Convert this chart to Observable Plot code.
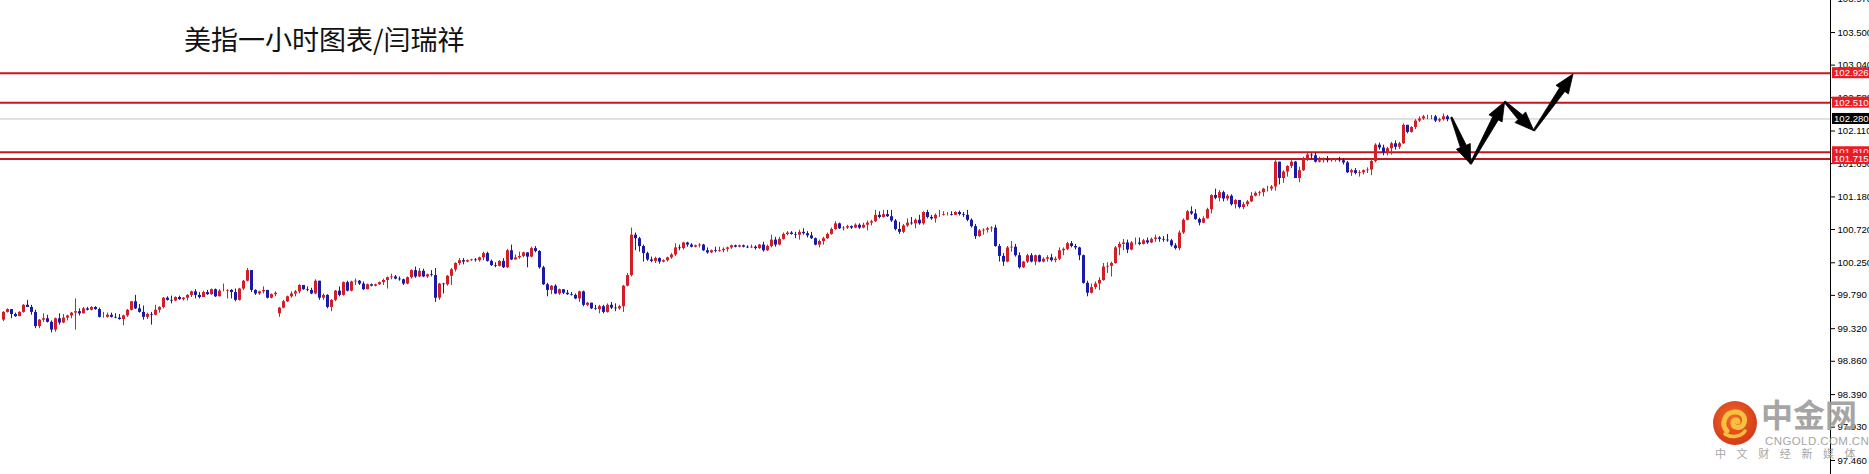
<!DOCTYPE html>
<html><head><meta charset="utf-8">
<script src="https://cdn.jsdelivr.net/npm/d3@7"></script>
<script src="https://cdn.jsdelivr.net/npm/@observablehq/plot@0.6"></script>
<style>
html,body{margin:0;padding:0;background:#fff;}
#wrap{position:relative;width:1869px;height:474px;overflow:hidden;background:#fff;}
#title{position:absolute;left:184px;top:25px;font-family:"Noto Sans CJK SC","Noto Sans",sans-serif;font-size:27px;line-height:1;color:#111;white-space:nowrap;}
.wm{position:absolute;white-space:nowrap;color:#9e9e9e;opacity:0.92;}
#wm1{left:1761px;top:397px;font-family:"Noto Sans CJK SC";font-weight:bold;font-size:32px;line-height:1;}
#wm2{left:1765px;top:436px;font-family:"Liberation Sans",sans-serif;font-size:11.5px;line-height:1;letter-spacing:0.4px;}
#wm3{left:1715px;top:448px;font-family:"Noto Sans CJK SC";font-size:11px;line-height:1;letter-spacing:10.6px;}
#wmlogo{position:absolute;left:1713px;top:401px;}
</style></head>
<body>
<div id="wrap">
  <div id="chart"></div>
  <div id="title">美指一小时图表/闫瑞祥</div>
  <svg id="wmlogo" width="44" height="44" viewBox="0 0 44 44">
    <defs><radialGradient id="lg" cx="45%" cy="40%" r="60%"><stop offset="0%" stop-color="#f06a2a"/><stop offset="100%" stop-color="#d43a18"/></radialGradient></defs>
    <circle cx="22" cy="22" r="22" fill="url(#lg)"/>
    <path d="M14 30 C 8 24, 11 12, 21 11 C 30 10, 34 18, 30 24 C 27 28, 20 27, 20 22 C 20 18, 25 18, 25 21" fill="none" stroke="#f8c03c" stroke-width="5" stroke-linecap="round"/>
    <path d="M12 33 C 18 37, 28 36, 32 30" fill="none" stroke="#f8c03c" stroke-width="3.5" stroke-linecap="round"/>
  </svg>
  <div class="wm" id="wm1">中金网</div>
  <div class="wm" id="wm2">CNGOLD.COM.CN</div>
  <div class="wm" id="wm3">中文财经新媒体</div>
</div>
<script>
// ---- data (US Dollar Index, 1-hour candles) ----
const firstOpen = 99.44;
const gapIndex = [69];
const gapOpen = [99.53];

const close = [
99.55,99.59,99.52,99.49,99.55,99.65,99.62,99.55,99.35,99.44,
99.46,99.41,99.30,99.46,99.40,99.47,99.50,99.54,99.56,99.53,
99.60,99.58,99.62,99.59,99.48,99.48,99.51,99.48,99.47,99.45,
99.50,99.58,99.70,99.60,99.55,99.48,99.52,99.51,99.58,99.62,
99.75,99.72,99.71,99.76,99.73,99.75,99.79,99.84,99.79,99.76,
99.83,99.80,99.87,99.77,99.85,99.85,99.86,99.83,99.72,99.88,
99.99,
100.14,99.86,99.81,99.84,99.86,99.75,99.80,99.82,99.61,99.70,
99.77,99.81,99.84,99.93,99.87,99.86,99.81,99.99,99.75,99.79,
99.62,99.72,99.85,99.79,99.97,99.85,99.98,99.99,99.95,99.87,
99.94,99.92,99.94,99.97,100.00,100.04,100.05,100.02,100.01,99.95,
100.04,100.14,100.05,100.13,100.05,100.08,100.07,99.75,99.95,99.94,
100.06,100.15,100.24,100.28,100.26,100.28,100.29,100.28,100.32,100.38,
100.27,100.21,100.20,100.27,100.18,100.42,100.29,100.32,100.34,100.39,
100.33,100.45,100.41,100.18,99.94,99.86,99.92,99.81,99.87,99.82,
99.80,99.79,99.74,99.84,99.65,99.68,99.60,99.59,99.63,99.55,
99.65,99.61,99.60,99.63,99.92,100.07,100.64,100.59,100.48,100.38,
100.29,100.27,100.31,100.26,100.28,100.32,100.36,100.46,100.45,100.53,
100.50,100.47,100.49,100.50,100.42,100.39,100.42,100.41,100.42,100.44,
100.46,100.49,100.47,100.49,100.47,100.46,100.47,100.45,100.50,100.42,
100.48,100.57,100.50,100.58,100.65,100.67,100.65,100.64,100.68,100.66,
100.63,100.59,100.50,100.55,100.59,100.65,100.72,100.80,100.73,100.74,
100.76,100.74,100.78,100.74,100.78,100.81,100.83,100.92,100.89,100.93,
100.90,100.84,100.72,100.68,100.77,100.81,100.80,100.85,100.80,100.96,
100.89,100.87,100.92,100.92,100.93,100.93,100.92,100.96,100.93,100.92,
100.85,100.76,100.62,100.70,100.71,100.73,100.74,100.48,100.34,100.26,
100.46,100.47,100.35,100.18,100.26,100.35,100.26,100.35,100.26,100.30,
100.32,100.28,100.30,100.42,100.44,100.52,100.48,100.46,100.35,99.96,
99.82,99.90,99.95,100.00,100.19,100.20,100.24,100.46,100.51,100.53,
100.43,100.53,100.53,100.51,100.56,100.53,100.58,100.60,100.58,100.57,
100.56,100.49,100.45,100.67,100.85,100.97,100.94,100.86,100.81,100.87,
101.00,101.20,101.16,101.24,101.15,101.19,101.07,101.13,101.03,101.07,
101.11,101.19,101.23,101.24,101.29,101.29,101.32,101.67,101.44,101.53,
101.61,101.67,101.44,101.55,101.71,101.77,101.76,101.67,101.69,101.71,
101.69,101.70,101.70,101.69,101.66,101.52,101.55,101.51,101.52,101.55,
101.56,101.68,101.91,101.87,101.80,101.86,101.93,101.88,101.93,102.19,
102.09,102.16,102.25,102.28,102.31,102.31,102.31,102.25,102.27,102.31,
102.27];

const high = [
99.56,99.60,99.59,99.54,99.56,99.66,99.72,99.65,99.58,99.45,
99.53,99.51,99.43,99.47,99.53,99.52,99.51,99.55,99.74,99.60,
99.62,99.62,99.63,99.63,99.61,99.55,99.54,99.54,99.53,99.52,
99.51,99.59,99.70,99.79,99.66,99.64,99.54,99.55,99.65,99.63,
99.76,99.77,99.78,99.77,99.78,99.76,99.80,99.85,99.87,99.83,
99.85,99.86,99.88,99.88,99.87,99.95,99.87,99.87,99.88,99.89,
100.00,
100.17,100.13,99.87,99.85,99.91,99.86,99.81,99.84,99.62,99.72,
99.78,99.84,99.86,99.94,99.93,99.91,99.89,100.01,99.99,99.81,
99.80,99.73,99.86,99.91,99.98,99.99,99.99,100.02,100.00,99.98,
99.95,99.95,99.95,99.98,100.02,100.05,100.09,100.07,100.05,100.02,
100.05,100.15,100.19,100.17,100.16,100.09,100.14,100.17,99.96,99.96,
100.07,100.17,100.25,100.31,100.31,100.29,100.30,100.31,100.33,100.40,
100.40,100.29,100.25,100.28,100.31,100.44,100.50,100.36,100.40,100.40,
100.39,100.47,100.48,100.42,100.20,99.96,99.93,99.94,99.88,99.87,
99.86,99.83,99.81,99.85,99.85,99.69,99.68,99.65,99.65,99.65,
99.67,99.69,99.67,99.65,99.93,100.10,100.74,100.67,100.61,100.50,
100.40,100.33,100.33,100.32,100.29,100.33,100.38,100.52,100.50,100.54,
100.54,100.52,100.50,100.52,100.51,100.46,100.43,100.47,100.47,100.46,
100.47,100.50,100.50,100.50,100.50,100.49,100.50,100.49,100.51,100.54,
100.50,100.64,100.61,100.61,100.67,100.69,100.69,100.68,100.71,100.73,
100.69,100.68,100.60,100.57,100.61,100.67,100.74,100.83,100.81,100.76,
100.78,100.77,100.80,100.80,100.81,100.84,100.85,100.99,100.97,100.99,
100.99,100.99,100.86,100.82,100.79,100.87,100.89,100.87,100.92,100.97,
100.99,100.92,100.94,100.99,100.97,100.96,100.97,100.97,100.98,100.96,
100.99,100.87,100.79,100.72,100.73,100.75,100.76,100.78,100.51,100.38,
100.48,100.55,100.51,100.39,100.27,100.37,100.38,100.36,100.36,100.32,
100.35,100.37,100.33,100.46,100.46,100.54,100.55,100.51,100.47,100.36,
99.99,99.95,99.98,100.04,100.24,100.25,100.26,100.48,100.54,100.58,
100.57,100.55,100.60,100.60,100.58,100.60,100.60,100.64,100.62,100.62,
100.65,100.58,100.52,100.70,100.87,100.99,101.04,101.00,100.88,100.90,
101.02,101.21,101.29,101.27,101.26,101.21,101.21,101.14,101.11,101.10,
101.13,101.24,101.25,101.26,101.30,101.33,101.34,101.69,101.67,101.55,
101.62,101.69,101.68,101.60,101.74,101.81,101.79,101.80,101.74,101.73,
101.75,101.72,101.72,101.74,101.72,101.68,101.57,101.58,101.55,101.56,
101.59,101.72,101.93,101.94,101.91,101.88,101.95,101.97,101.95,102.21,
102.19,102.17,102.27,102.31,102.33,102.33,102.33,102.33,102.29,102.35,
102.33];

const low = [
99.42,99.54,99.46,99.48,99.49,99.54,99.62,99.51,99.32,99.32,
99.41,99.40,99.26,99.27,99.37,99.39,99.43,99.46,99.30,99.50,
99.53,99.57,99.57,99.58,99.47,99.47,99.47,99.47,99.46,99.44,
99.36,99.48,99.57,99.59,99.54,99.44,99.45,99.37,99.50,99.54,
99.60,99.71,99.67,99.70,99.72,99.71,99.71,99.76,99.74,99.74,
99.76,99.79,99.79,99.76,99.77,99.84,99.74,99.74,99.70,99.71,
99.86,
99.98,99.83,99.79,99.79,99.81,99.74,99.74,99.77,99.48,99.60,
99.69,99.75,99.77,99.81,99.86,99.84,99.80,99.80,99.72,99.72,
99.60,99.56,99.70,99.77,99.78,99.84,99.84,99.93,99.93,99.86,
99.87,99.91,99.91,99.93,99.93,99.88,100.01,100.01,99.99,99.93,
99.94,100.02,100.03,100.04,100.04,100.03,100.05,99.69,99.72,99.81,
99.92,99.93,100.12,100.21,100.22,100.25,100.27,100.26,100.26,100.28,
100.26,100.20,100.18,100.19,100.17,100.17,100.28,100.29,100.30,100.32,
100.18,100.32,100.39,100.16,99.93,99.77,99.80,99.80,99.79,99.80,
99.79,99.78,99.73,99.69,99.63,99.63,99.59,99.58,99.53,99.53,
99.54,99.59,99.56,99.58,99.55,99.91,100.05,100.42,100.40,100.26,
100.27,100.25,100.24,100.23,100.25,100.26,100.30,100.34,100.42,100.43,
100.47,100.46,100.46,100.46,100.41,100.37,100.38,100.39,100.40,100.39,
100.40,100.44,100.46,100.46,100.46,100.45,100.45,100.43,100.44,100.40,
100.41,100.46,100.47,100.49,100.57,100.63,100.64,100.59,100.57,100.64,
100.60,100.58,100.49,100.46,100.50,100.58,100.64,100.71,100.72,100.70,
100.72,100.72,100.73,100.72,100.73,100.70,100.77,100.82,100.87,100.88,
100.89,100.82,100.70,100.65,100.66,100.75,100.78,100.73,100.78,100.78,
100.87,100.85,100.81,100.89,100.91,100.91,100.91,100.92,100.91,100.89,
100.83,100.74,100.58,100.61,100.64,100.67,100.68,100.47,100.26,100.20,
100.25,100.40,100.33,100.16,100.17,100.24,100.25,100.21,100.25,100.25,
100.26,100.26,100.25,100.28,100.35,100.42,100.46,100.43,100.28,99.95,
99.77,99.81,99.87,99.86,99.99,100.10,100.05,100.23,100.35,100.42,
100.38,100.42,100.50,100.49,100.50,100.51,100.52,100.54,100.54,100.54,
100.54,100.47,100.43,100.42,100.65,100.84,100.92,100.85,100.77,100.80,
100.88,100.94,101.14,101.11,101.11,101.12,101.05,101.01,101.01,101.00,
101.04,101.10,101.18,101.19,101.18,101.25,101.26,101.26,101.35,101.37,
101.46,101.58,101.44,101.38,101.54,101.68,101.71,101.66,101.66,101.66,
101.66,101.67,101.67,101.67,101.63,101.51,101.47,101.49,101.46,101.49,
101.51,101.48,101.66,101.84,101.76,101.76,101.77,101.84,101.85,101.92,
102.07,102.08,102.13,102.23,102.26,102.27,102.27,102.23,102.23,102.25,
102.24];

// horizontal levels (red) and current price (grey)
const levelValues = [102.926, 102.510, 101.810, 101.715];
const currentPrice = 102.280;
// right-axis tick labels
const yTicks = [97.46, 97.93, 98.39, 98.86, 99.32, 99.79, 100.25, 100.72, 101.18, 101.65, 102.11, 102.58, 103.04, 103.50, 103.97];
// projected path (bar index, price) drawn as arrows
const pathBar = [362.1, 366.9, 375.4, 382.7, 392.5];
const pathPrice = [102.297, 101.638, 102.517, 102.108, 102.908];

// ---- build table ----
const candles = close.map((c, i) => {
  let o = i === 0 ? firstOpen : close[i - 1];
  const g = gapIndex.indexOf(i);
  if (g >= 0) o = gapOpen[g];
  return {i, open: o, close: c, high: Math.max(high[i], o, c), low: Math.min(low[i], o, c), up: c >= o};
});

const RED = "#d41e26", BLUE = "#1a1aa8", LINE = "#c4181e", BOX = "#ea1c24";
const xDomain = [-0.75, 456.75];
const yDomain = [97.262, 103.952];

function arrowsMark(index, scales) {
  const g = d3.create("svg:g");
  for (let k = 0; k < pathBar.length - 1; k++) {
    const sx = scales.x(pathBar[k]), sy = scales.y(pathPrice[k]);
    const tx = scales.x(pathBar[k + 1]), ty = scales.y(pathPrice[k + 1]);
    const dx = tx - sx, dy = ty - sy, len = Math.hypot(dx, dy);
    const ux = dx / len, uy = dy / len, nx = -uy, ny = ux;
    const L = 19, hw = 7.5, sw0 = 0.8, sw1 = 3.2;
    const bx = tx - ux * L, by = ty - uy * L;
    const pts = [
      [sx + nx * sw0, sy + ny * sw0], [bx + nx * sw1, by + ny * sw1], [bx + nx * hw, by + ny * hw],
      [tx, ty],
      [bx - nx * hw, by - ny * hw], [bx - nx * sw1, by - ny * sw1], [sx - nx * sw0, sy - ny * sw0]
    ];
    g.append("path").attr("d", "M" + pts.map(p => p[0].toFixed(1) + "," + p[1].toFixed(1)).join("L") + "Z")
      .attr("fill", "#000").attr("stroke", "#000").attr("stroke-width", 0.8).attr("stroke-linejoin", "round");
  }
  return g.node();
}

function priceTags(index, scales, values, dimensions) {
  const g = d3.create("svg:g")
    .attr("font-family", "Liberation Sans, Arial, sans-serif")
    .attr("font-size", "9.6px")
    .attr("text-anchor", "start");
  const x0 = dimensions.width - dimensions.marginRight + 2;
  const tags = [[currentPrice, "#000"], [levelValues[0], BOX], [levelValues[1], BOX], [levelValues[2], BOX], [levelValues[3], BOX]];
  for (const [v, bg] of tags) {
    const y = scales.y(v);
    g.append("rect").attr("x", x0).attr("y", y - 5.5).attr("width", 40).attr("height", 11).attr("fill", bg);
    g.append("text").attr("x", x0 + 2).attr("y", y).attr("dy", "0.35em").attr("text-anchor", "start")
      .attr("fill", "#fff").text(v.toFixed(3));
  }
  return g.node();
}

const chart = Plot.plot({
  width: 1869,
  height: 474,
  marginLeft: 0,
  marginRight: 39,
  marginTop: 0,
  marginBottom: 0,
  x: {domain: xDomain, axis: null},
  y: {domain: yDomain, axis: null},
  style: {fontFamily: "Liberation Sans, Arial, sans-serif", fontSize: "9.6px", background: "#fff", color: "#000"},
  marks: [
    Plot.ruleY([currentPrice], {stroke: "#c0c0c0", strokeWidth: 1}),
    Plot.ruleY(levelValues, {stroke: LINE, strokeWidth: 2}),
    Plot.ruleX(candles, {x: "i", y1: "low", y2: "high", stroke: d => d.up ? RED : BLUE, strokeWidth: 1}),
    Plot.ruleX(candles, {x: "i", y1: "open", y2: "close", stroke: d => d.up ? RED : BLUE, strokeWidth: 3}),
    arrowsMark,
    Plot.ruleX([xDomain[1]], {stroke: "#000", strokeWidth: 1}),
    Plot.axisY({anchor: "right", ticks: yTicks, tickFormat: d => d.toFixed(3), tickSize: 4, tickPadding: 3, stroke: "#000", fill: "#000"}),
    priceTags
  ]
});
document.getElementById("chart").appendChild(chart);
</script>
</body></html>
